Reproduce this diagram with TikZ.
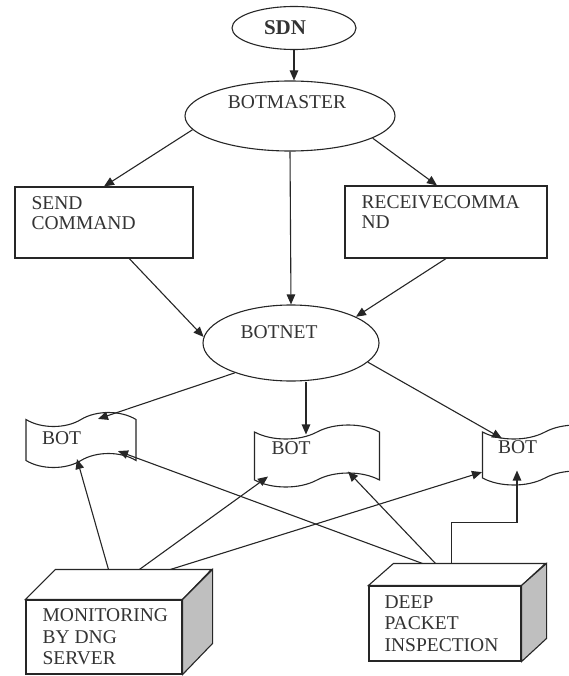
\documentclass[tikz,border=0pt]{standalone}
\usepackage{fontspec}
\setmainfont{Liberation Serif}
\usetikzlibrary{shapes.geometric,shapes.symbols,arrows.meta,positioning}

\tikzset{
  flow/.style={draw=black!85, line width=1.1pt},
  arr/.style={flow, -{Triangle[length=10pt,width=8.5pt]}},
  oval/.style={ellipse, flow, fill=white, inner sep=0pt},
  cmdbox/.style={rectangle, flow, fill=white, inner sep=0pt},
  botflag/.style={tape, flow, fill=white, tape bend height=14pt, inner sep=0pt},
  srvfront/.style={rectangle, flow, fill=white, inner sep=0pt},
  txt/.style={inner sep=0pt, align=left, text=black!80, font=\fontsize{19.5}{20}\selectfont},
  srvtxt/.style={txt, font=\fontsize{19.5}{21.5}\selectfont},
}

\begin{document}
\begin{tikzpicture}[x=1pt,y=-1pt]
\useasboundingbox (0,0) rectangle (569,676);
\clip (0,0) rectangle (569,676);

% top of the tree
\node[oval, minimum width=124pt, minimum height=43pt,
      label={[txt, font=\bfseries\fontsize{21}{24}\selectfont, xshift=-9pt]center:SDN}] (sdn) at (294,28) {};
\node[oval, minimum width=210pt, minimum height=70pt,
      label={[txt, xshift=-3pt, yshift=13.5pt]center:BOTMASTER}] (bm) at (290,116) {};

% command boxes
\node[cmdbox, minimum width=178pt, minimum height=71pt] (send) at (104,222.5) {};
\node[txt, anchor=north west] (sendt) at ([xshift=17pt,yshift=-10pt]send.north west) {SEND\\COMMAND};
\node[cmdbox, minimum width=202pt, minimum height=72pt] (recv) at (446,222) {};
\node[txt, anchor=north west] (recvt) at ([xshift=17pt,yshift=-10pt]recv.north west) {RECEIVECOMMA\\ND};

\node[oval, minimum width=176pt, minimum height=76pt,
      label={[txt, xshift=-12pt, yshift=11pt]center:BOTNET}] (bn) at (291,343) {};

% bots
\node[botflag, minimum width=110pt, minimum height=55pt,
      label={[txt, xshift=-19.5pt, yshift=2pt]center:BOT}] (bot1) at (81,440) {};
\node[botflag, minimum width=125pt, minimum height=62pt,
      label={[txt, xshift=-26pt, yshift=8pt]center:BOT}] (bot2) at (317,456) {};
\node[botflag, minimum width=125pt, minimum height=60pt,
      label={[txt, xshift=-27.5pt, yshift=8pt]center:BOT}] (bot3) at (545,455) {};

% servers
\node[srvfront, minimum width=156pt, minimum height=74pt] (mon) at (104,637) {};
\draw[flow, fill=white] (mon.north west) -- ++(30,-30) -- ++(156,0) -- (mon.north east) -- cycle;
\draw[flow, fill=black!25] (mon.north east) -- ++(30,-30) -- ++(0,74) -- (mon.south east) -- cycle;
\coordinate (monback) at ([shift={(30,-30)}]mon.north west);
\node[srvtxt, anchor=north west] (mont) at ([xshift=17pt,yshift=-9pt]mon.north west) {MONITORING\\BY DNG\\SERVER};

\node[srvfront, minimum width=152pt, minimum height=75pt] (dpi) at (445,623.5) {};
\draw[flow, fill=white] (dpi.north west) -- ++(25,-22) -- ++(152,0) -- (dpi.north east) -- cycle;
\draw[flow, fill=black!25] (dpi.north east) -- ++(25,-22) -- ++(0,75) -- (dpi.south east) -- cycle;
\coordinate (dpiback) at ([shift={(25,-22)}]dpi.north west);
\node[srvtxt, anchor=north west] (dpit) at ([xshift=16pt,yshift=-10pt]dpi.north west) {DEEP\\PACKET\\INSPECTION};

% connectors
\draw[arr] (sdn.south) -- (sdn.south |- bm.north);
\draw[arr] (bm.188) -- (send.north);
\draw[arr] (bm.345) -- ([xshift=-9pt]recv.north);
\draw[arr] (bm.south) -- (bn.north);
\draw[arr] (send.-55) -- (bn.176);
\draw[arr] (recv.south) -- (bn.22);
\draw[arr] (bn.208) -- ([xshift=17pt]bot1.north);
\draw[arr] ([xshift=15pt]bn.south) -- ([xshift=-11pt,yshift=-3pt]bot2.north);
\draw[arr] (bn.346) -- ([xshift=-43pt,yshift=-7pt]bot3.north);

\draw[arr] ([xshift=53pt]monback) -- ([xshift=-4pt,yshift=2pt]bot1.south);
\draw[arr] ([xshift=84pt]monback) -- ([xshift=-49pt,yshift=4pt]bot2.south);
\draw[arr] ([xshift=115pt]monback) -- ([yshift=6pt]bot3.south west);
\draw[arr] ([xshift=29pt]dpiback) -- ([xshift=37pt,yshift=10pt]bot1.south);
\draw[arr] ([xshift=42pt]dpiback) -- ([xshift=31pt,yshift=9pt]bot2.south);
\draw[arr] ([xshift=58pt]dpiback) -- ++(0,-41) -| ([xshift=-28pt,yshift=8pt]bot3.south);
\end{tikzpicture}
\end{document}
